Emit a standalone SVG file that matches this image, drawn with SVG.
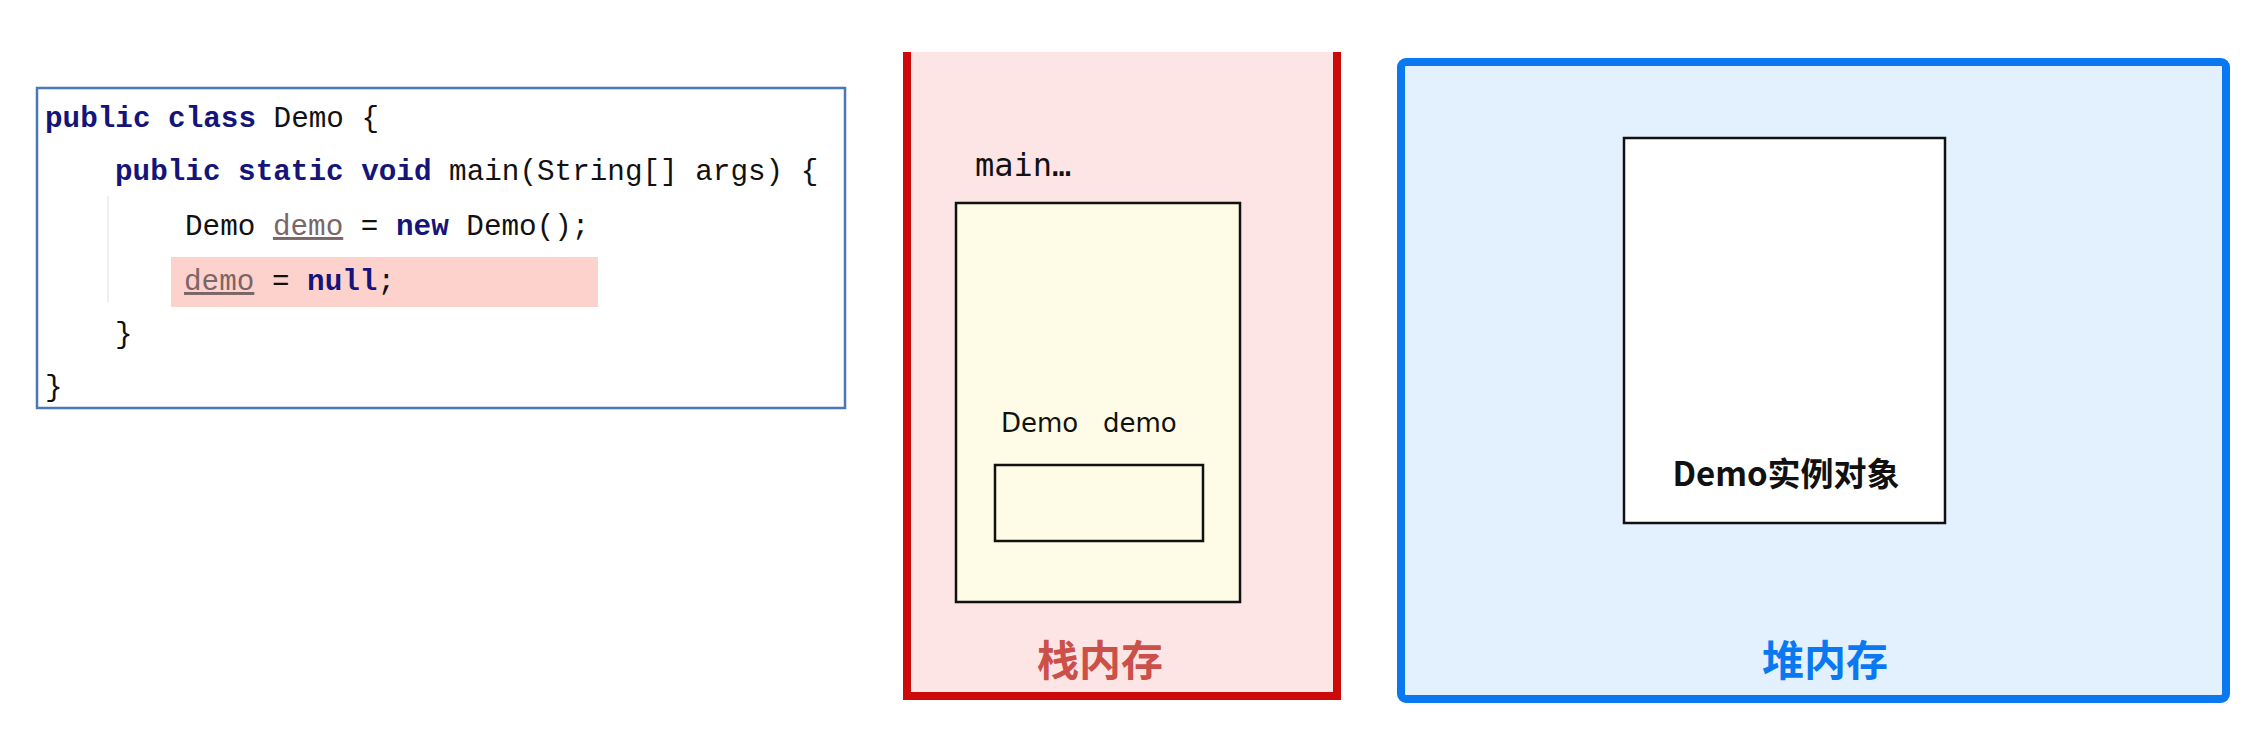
<svg xmlns="http://www.w3.org/2000/svg" width="2265" height="741" viewBox="0 0 2265 741">
<style>
.code{font-family:"Liberation Mono","DejaVu Sans Mono",monospace;font-size:29.3px;fill:#111}
.kw{font-weight:bold;fill:#14147a}
.var{fill:#7a6666;text-decoration:underline}
.box{stroke:#111;stroke-width:2.5}
.mono{font-family:"DejaVu Sans Mono","Liberation Mono",monospace;font-size:32px;fill:#111}
.sans{font-family:"DejaVu Sans","Liberation Sans",sans-serif;font-size:26px;fill:#111}
.cjk{font-family:"Noto Sans CJK SC","Noto Sans",sans-serif;font-weight:bold}
</style>
<rect width="2265" height="741" fill="#ffffff"/>
<g id="code">
<rect x="37" y="88" width="808" height="320" fill="#ffffff" stroke="#4a78b6" stroke-width="2.5"/>
<rect x="171" y="257" width="427" height="50" fill="#fdd2cd"/>
<line x1="108" y1="196" x2="108" y2="302" stroke="#e8e8e8" stroke-width="1.5"/>
<text class="code" x="45" y="127"><tspan class="kw">public</tspan> <tspan class="kw">class</tspan> Demo {</text>
<text class="code" x="115" y="180"><tspan class="kw">public</tspan> <tspan class="kw">static</tspan> <tspan class="kw">void</tspan> main(String[] args) {</text>
<text class="code" x="185" y="235">Demo <tspan class="var">demo</tspan> = <tspan class="kw">new</tspan> Demo();</text>
<text class="code" x="184" y="290"><tspan class="var">demo</tspan> = <tspan class="kw">null</tspan>;</text>
<text class="code" x="115" y="343">}</text>
<text class="code" x="45" y="396">}</text>
</g>
<g id="stack">
<rect x="907" y="52" width="430" height="644" fill="#fde5e5"/>
<path d="M907 52 V696 H1337 V52" fill="none" stroke="#cc0a0a" stroke-width="8"/>
<text class="mono" x="975" y="176">main…</text>
<rect class="box" x="956" y="203" width="284" height="399" fill="#fefce6"/>
<text class="sans" x="1001" y="432" xml:space="preserve">Demo   demo</text>
<rect class="box" x="995" y="465" width="208" height="76" fill="#fefce6"/>
<text class="cjk" x="1100" y="676" font-size="42" fill="#cb5049" text-anchor="middle">栈内存</text>
</g>
<g id="heap">
<rect x="1401" y="62" width="825" height="637" rx="5" fill="#e3f0fd" stroke="#0a78f0" stroke-width="8"/>
<rect class="box" x="1624" y="138" width="321" height="385" fill="#ffffff"/>
<text class="cjk" x="1786" y="486" font-size="33" fill="#111" text-anchor="middle">Demo实例对象</text>
<text class="cjk" x="1825" y="676" font-size="42" fill="#0a78f0" text-anchor="middle">堆内存</text>
</g>
<g id="connectors"></g>
</svg>
